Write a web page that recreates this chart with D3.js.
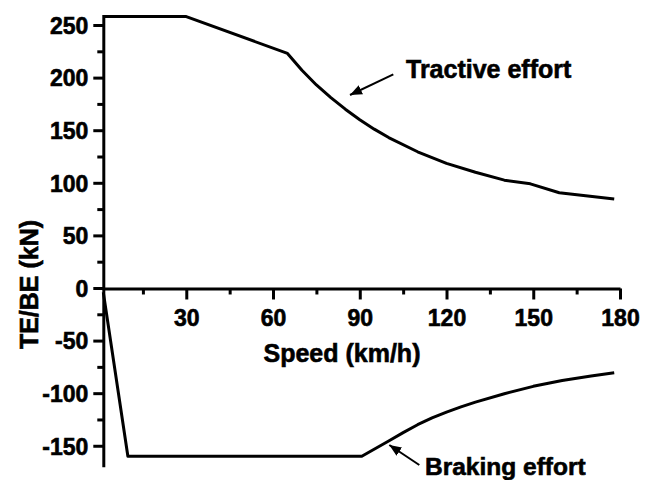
<!DOCTYPE html>
<html>
<head>
<meta charset="utf-8">
<script src="https://cdn.jsdelivr.net/npm/d3@7"></script>
<style>
  html, body { margin: 0; padding: 0; background: #fff; }
  svg { display: block; }
  text { font-family: "Liberation Sans", Arial, sans-serif; font-weight: bold; fill: #000; stroke: #000; stroke-width: 0.6px; }
</style>
</head>
<body>
<svg id="chart" width="651" height="480"></svg>
<script>
// ---- data ----
const tractiveSpeed = [1.3, 30, 65, 70, 75, 80, 85, 90, 95, 100, 110, 120, 130, 140, 149, 159, 178];
const tractiveForce = [258, 258, 223, 207, 193, 181, 170, 160, 151, 143, 129.5, 118.5, 110, 102.5, 99, 90.5, 84.5];

const brakingSpeed = [1.3, 9.8, 90.7, 100, 105, 110, 115, 120, 125, 130, 140, 150, 160, 170, 178];
const brakingForce = [-4, -160, -160, -145.5, -137.5, -130, -123.5, -118, -113, -108.5, -100.5, -93.5, -88, -83.7, -80.6];

const xMajorTicks = [30, 60, 90, 120, 150, 180];
const xMinorTicks = [15, 45, 75, 105, 135, 165];
const yMajorTicks = [-150, -100, -50, 0, 50, 100, 150, 200, 250];
const yMinorTicks = [-125, -75, -25, 25, 75, 125, 175, 225];

const xTitle = "Speed (km/h)";
const yTitle = "TE/BE (kN)";
const tractiveLabel = "Tractive effort";
const brakingLabel = "Braking effort";

// ---- layout ----
const svg = d3.select("#chart");
const x = d3.scaleLinear().domain([1.3, 180]).range([103.3, 620]);
const y = d3.scaleLinear().domain([-170, 260]).range([466.8, 14.5]);

const tractive = tractiveSpeed.map((s, i) => [s, tractiveForce[i]]);
const braking = brakingSpeed.map((s, i) => [s, brakingForce[i]]);

const line = d3.line().x(d => x(d[0])).y(d => y(d[1]));
const fmt = d => String(d);

function styleAxis(g) {
  g.select(".domain").attr("stroke", "#000").attr("stroke-width", 3);
  g.selectAll(".tick line").attr("stroke", "#000").attr("stroke-width", 3);
}

// y axis
const yAxisMajor = d3.axisLeft(y).tickValues(yMajorTicks).tickSize(10).tickPadding(5).tickSizeOuter(0).tickFormat(fmt);
const yAxisMinor = d3.axisLeft(y).tickValues(yMinorTicks).tickSize(6).tickFormat("").tickSizeOuter(0);
const gy = svg.append("g").attr("transform", `translate(${x(1.3)},0)`).call(yAxisMajor);
const gy2 = svg.append("g").attr("transform", `translate(${x(1.3)},0)`).call(yAxisMinor);
styleAxis(gy); styleAxis(gy2);
gy2.select(".domain").remove();
gy.selectAll(".tick text").attr("font-size", 23).attr("font-family", "Liberation Sans, Arial, sans-serif")
  .attr("font-weight", "bold").attr("fill", "#000").attr("dy", "0.36em");

// x axis at y = 0
const xAxisMajor = d3.axisBottom(x).tickValues(xMajorTicks).tickSize(11).tickPadding(10).tickSizeOuter(0).tickFormat(fmt);
const xAxisMinor = d3.axisBottom(x).tickValues(xMinorTicks).tickSize(6).tickFormat("").tickSizeOuter(0);
const gx = svg.append("g").attr("transform", `translate(0,${y(0) + 0.5})`).call(xAxisMajor);
const gx2 = svg.append("g").attr("transform", `translate(0,${y(0) + 0.5})`).call(xAxisMinor);
styleAxis(gx); styleAxis(gx2);
gx2.select(".domain").remove();
gx.selectAll(".tick text").attr("font-size", 23).attr("font-family", "Liberation Sans, Arial, sans-serif")
  .attr("font-weight", "bold").attr("fill", "#000");

// series lines
svg.append("path").datum(tractive).attr("d", line)
  .attr("fill", "none").attr("stroke", "#000").attr("stroke-width", 3).attr("stroke-linejoin", "round");
svg.append("path").datum(braking).attr("d", line)
  .attr("fill", "none").attr("stroke", "#000").attr("stroke-width", 3).attr("stroke-linejoin", "round");

// axis titles
svg.append("text").attr("x", 342).attr("y", 361.5).attr("text-anchor", "middle")
  .attr("font-size", 25).text(xTitle);
svg.append("text").attr("transform", "translate(37.5,284.5) rotate(-90)").attr("text-anchor", "middle")
  .attr("font-size", 25).text(yTitle);

// annotations
const defs = svg.append("defs");
defs.append("marker").attr("id", "arrow").attr("viewBox", "0 0 12 10")
  .attr("refX", 12).attr("refY", 5).attr("markerWidth", 12).attr("markerHeight", 10)
  .attr("markerUnits", "userSpaceOnUse").attr("orient", "auto")
  .append("path").attr("d", "M0,0 L12,5 L0,10 Z").attr("fill", "#000");

svg.append("line").attr("x1", 393.3).attr("y1", 74.3).attr("x2", 350).attr("y2", 95)
  .attr("stroke", "#000").attr("stroke-width", 2).attr("marker-end", "url(#arrow)");
svg.append("text").attr("x", 406).attr("y", 78.3).attr("font-size", 25).text(tractiveLabel);

svg.append("line").attr("x1", 419.3).attr("y1", 465).attr("x2", 389.3).attr("y2", 445)
  .attr("stroke", "#000").attr("stroke-width", 2).attr("marker-end", "url(#arrow)");
svg.append("text").attr("x", 425).attr("y", 475).attr("font-size", 24.5).text(brakingLabel);
</script>
</body>
</html>
